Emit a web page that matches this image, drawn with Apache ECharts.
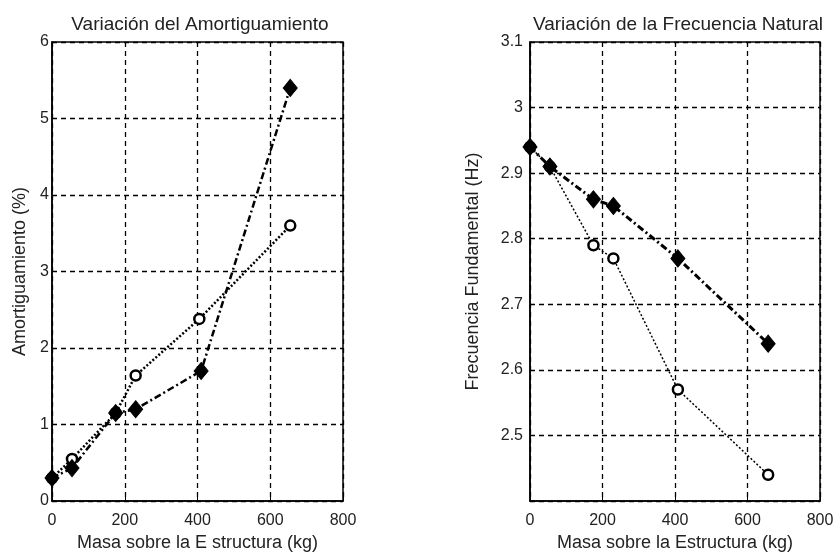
<!DOCTYPE html>
<html>
<head>
<meta charset="utf-8">
<script src="https://cdn.jsdelivr.net/npm/echarts@6/dist/echarts.min.js"></script>
<style>
  html, body { margin: 0; padding: 0; background: #fff; }
  #chart { width: 838px; height: 553px; }
</style>
</head>
<body>
<div id="chart"></div>
<script>
// masa sobre la estructura (kg)
const masaDiamante = [0, 55, 175, 230, 410, 655];
const masaCirculo = [0, 55, 175, 230, 405, 655];

// amortiguamiento (%)
const amortDiamante = [0.3, 0.43, 1.15, 1.2, 1.7, 5.4];
const amortCirculo = [0.3, 0.55, 1.15, 1.64, 2.38, 3.6];

// frecuencia fundamental (Hz)
const frecMasa = [0, 55, 175, 230, 408, 657];
const frecDiamante = [2.94, 2.91, 2.86, 2.85, 2.77, 2.64];
const frecCirculo = [2.94, 2.91, 2.79, 2.77, 2.57, 2.44];

const titulos = ['Variación del Amortiguamiento', 'Variación de la Frecuencia Natural'];
const nombreX = ['Masa sobre la E structura (kg)', 'Masa sobre la Estructura (kg)'];
const nombreY = ['Amortiguamiento (%)', 'Frecuencia Fundamental (Hz)'];

const pares = (xs, ys) => xs.map((x, i) => [x, ys[i]]);

const fuente = 'Liberation Sans, Arial, sans-serif';
const txt = { color: '#222', fontFamily: fuente, fontSize: 16 };

const dashDot = [7, 3, 2, 3];
const dotted = [2, 2];
const rejilla = { color: '#000', type: [5, 4], width: 1.3 };

function xAxis(idx) {
    return {
        gridIndex: idx, type: 'value', min: 0, max: 800, interval: 200,
        name: nombreX[idx], nameLocation: 'middle', nameGap: 33,
        nameTextStyle: { ...txt, fontSize: 18 },
        axisLine: { show: true, lineStyle: { color: '#000', width: 1.5 } },
        axisTick: { show: true, inside: true, length: 4, lineStyle: { color: '#000' } },
        axisLabel: { ...txt, margin: 12 },
        splitLine: { show: true, lineStyle: rejilla }
    };
}

function diamantes(idx, data, w) {
    return {
        type: 'line', xAxisIndex: idx, yAxisIndex: idx, data: data,
        symbol: 'diamond', symbolSize: [14, 17],
        itemStyle: { color: '#000', borderColor: '#000', borderWidth: 1 },
        lineStyle: { color: '#000', width: w, type: dashDot },
        z: 4
    };
}

function circulos(idx, data, w) {
    return {
        type: 'line', xAxisIndex: idx, yAxisIndex: idx, data: data,
        symbol: 'circle', symbolSize: 10,
        itemStyle: { color: '#fff', borderColor: '#000', borderWidth: 2.5 },
        lineStyle: { color: '#000', width: w, type: dotted },
        z: 3
    };
}

const chart = echarts.init(document.getElementById('chart'));
chart.setOption({
    backgroundColor: '#fff',
    animation: false,
    title: [
        { text: titulos[0], left: 195, top: 10, textAlign: 'center',
          textStyle: { ...txt, fontSize: 19, fontWeight: 'normal' } },
        { text: titulos[1], left: 673, top: 10, textAlign: 'center',
          textStyle: { ...txt, fontSize: 19, fontWeight: 'normal' } }
    ],
    grid: [
        { left: 52, top: 42, width: 291, height: 459, outerBoundsMode: 'none', containLabel: false,
          show: true, borderColor: '#000', borderWidth: 1.5, backgroundColor: '#fff' },
        { left: 530, top: 42, width: 290, height: 459, outerBoundsMode: 'none', containLabel: false,
          show: true, borderColor: '#000', borderWidth: 1.5, backgroundColor: '#fff' }
    ],
    xAxis: [xAxis(0), xAxis(1)],
    yAxis: [
        {
            gridIndex: 0, type: 'value', min: 0, max: 6, interval: 1,
            name: nombreY[0], nameLocation: 'middle', nameGap: 23,
            nameTextStyle: { ...txt, fontSize: 18 },
            axisLine: { show: true, lineStyle: { color: '#000', width: 1.5 } },
            axisTick: { show: true, inside: true, length: 4, lineStyle: { color: '#000' } },
            axisLabel: { ...txt, margin: 3 },
            splitLine: { show: true, lineStyle: rejilla }
        },
        {
            gridIndex: 1, type: 'value', min: 2.4, max: 3.1, interval: 0.1,
            name: nombreY[1], nameLocation: 'middle', nameGap: 48,
            nameTextStyle: { ...txt, fontSize: 18 },
            axisLine: { show: true, lineStyle: { color: '#000', width: 1.5 } },
            axisTick: { show: true, inside: true, length: 4, lineStyle: { color: '#000' } },
            axisLabel: { ...txt, margin: 7,
                formatter: v => (v < 2.45 ? '' : String(+v.toFixed(1))) },
            splitLine: { show: true, lineStyle: rejilla }
        }
    ],
    series: [
        diamantes(0, pares(masaDiamante, amortDiamante), 2.5),
        circulos(0, pares(masaCirculo, amortCirculo), 2.5),
        diamantes(1, pares(frecMasa, frecDiamante), 3),
        circulos(1, pares(frecMasa, frecCirculo), 1.5)
    ]
});
</script>
</body>
</html>
